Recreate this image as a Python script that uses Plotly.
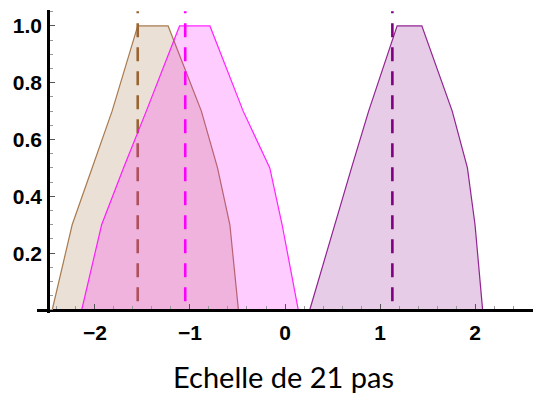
import plotly.graph_objects as go

# membership levels (alpha cuts)
alpha = [0.0, 0.3, 0.5, 0.7, 1.0]

# left / right bounds of each fuzzy number at each alpha level
brown_left = [-2.45, -2.24, -2.03, -1.82, -1.55]
brown_right = [-0.49, -0.58, -0.71, -0.88, -1.23]
magenta_left = [-2.14, -1.93, -1.70, -1.46, -1.11]
magenta_right = [0.14, -0.03, -0.16, -0.44, -0.79]
purple_left = [0.26, 0.52, 0.70, 0.88, 1.18]
purple_right = [2.08, 2.00, 1.92, 1.76, 1.44]

# centres (dashed vertical lines)
centres = [-1.55, -1.05, 1.13]

series = [
    (brown_left, brown_right, "153,102,51"),
    (magenta_left, magenta_right, "255,0,255"),
    (purple_left, purple_right, "128,0,128"),
]

x_ticks = [-2, -1, 0, 1, 2]
y_ticks = [0.2, 0.4, 0.6, 0.8, 1.0]
caption = "Echelle de 21 pas"

fig = go.Figure()
dash = "2px,10px" + ",14px,10px" * 14
for (lft, rgt, rgb), c in zip(series, centres):
    xs = list(lft) + list(reversed(rgt)) + [lft[0]]
    ys = list(alpha) + list(reversed(alpha)) + [alpha[0]]
    fig.add_trace(go.Scatter(
        x=xs, y=ys, mode="lines", fill="toself",
        fillcolor=f"rgba({rgb},0.2)",
        line=dict(color=f"rgba({rgb},0.85)", width=1.2),
        hoverinfo="skip", showlegend=False))
    fig.add_trace(go.Scatter(
        x=[c, c], y=[1.052, 0.0], mode="lines",
        line=dict(color=f"rgb({rgb})", width=2.6, dash=dash),
        hoverinfo="skip", showlegend=False))

tickfont = dict(family="Liberation Sans, Arial, sans-serif", size=21, color="black",
                weight="bold")
fig.update_layout(
    width=539, height=396,
    margin=dict(l=37, r=6, t=10, b=83, autoexpand=False),
    paper_bgcolor="white", plot_bgcolor="white",
    xaxis=dict(range=[-2.61, 2.61], anchor="free", position=0.00994,
               automargin=False,
               showgrid=False, zeroline=False, showline=True,
               linecolor="black", linewidth=2.6,
               tickvals=x_ticks, ticks="inside", ticklen=5, tickwidth=1.2,
               tickcolor="#555", tickfont=tickfont, ticklabelstandoff=3,
               minor=dict(dtick=0.2, ticks="inside", ticklen=3, tickcolor="#999", tickwidth=1)),
    yaxis=dict(range=[-0.0106, 1.056], anchor="free", position=0.0222,
               automargin=False,
               showgrid=False, zeroline=False, showline=True,
               linecolor="black", linewidth=2.6,
               tickvals=y_ticks, tickformat=".1f", ticks="inside", ticklen=5,
               tickwidth=1.2, tickcolor="#555", tickfont=tickfont, ticklabelstandoff=1,
               minor=dict(dtick=0.05, ticks="inside", ticklen=3, tickcolor="#999", tickwidth=1)),
    annotations=[dict(text=caption, x=(283 - 37) / 496, y=-(376 - 313) / 303,
                      xref="paper", yref="paper", showarrow=False,
                      xanchor="center", yanchor="middle",
                      font=dict(family="Lato, sans-serif", size=29, color="black"))],
)

fig.write_html("out.html", config={"displayModeBar": False},
               post_script="document.body.style.margin='0';document.body.style.padding='0';")
